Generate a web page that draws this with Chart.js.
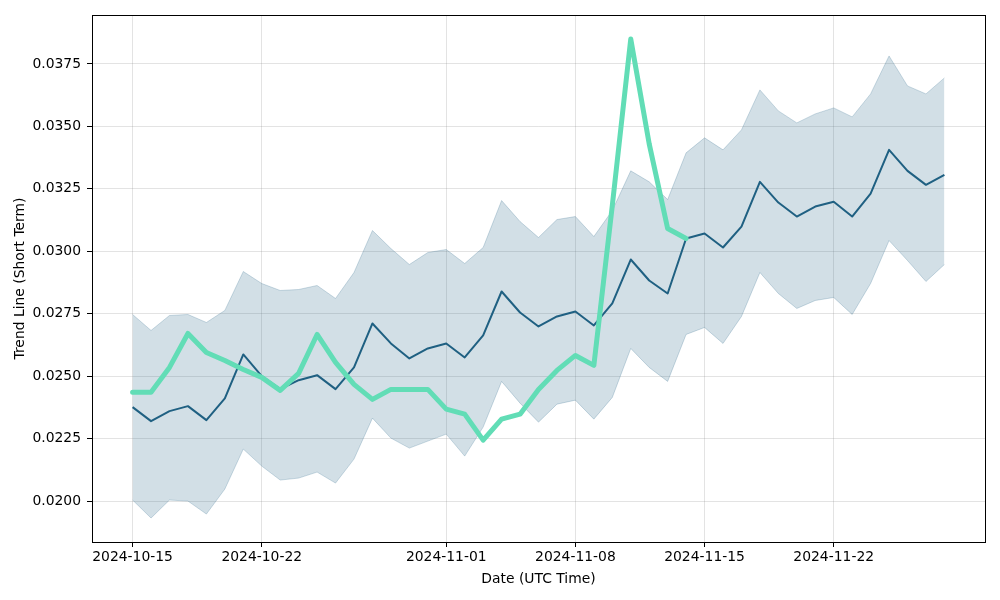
<!DOCTYPE html>
<html>
<head>
<meta charset="utf-8">
<script src="https://cdn.jsdelivr.net/npm/chart.js@4/dist/chart.umd.min.js"></script>
<style>
html,body{margin:0;padding:0;background:#fff;}
#wrap{width:1000px;height:600px;position:relative;}
</style>
</head>
<body>
<div id="wrap"><canvas id="c" width="1000" height="600"></canvas></div>
<script>
const dates = [
"2024-10-15","2024-10-16","2024-10-17","2024-10-18","2024-10-19","2024-10-20","2024-10-21","2024-10-22","2024-10-23","2024-10-24",
"2024-10-25","2024-10-26","2024-10-27","2024-10-28","2024-10-29","2024-10-30","2024-10-31","2024-11-01","2024-11-02","2024-11-03",
"2024-11-04","2024-11-05","2024-11-06","2024-11-07","2024-11-08","2024-11-09","2024-11-10","2024-11-11","2024-11-12","2024-11-13",
"2024-11-14","2024-11-15","2024-11-16","2024-11-17","2024-11-18","2024-11-19","2024-11-20","2024-11-21","2024-11-22","2024-11-23",
"2024-11-24","2024-11-25","2024-11-26","2024-11-27","2024-11-28"];
const meanLine = [
0.02376,0.02320,0.02360,0.02380,0.02324,0.02411,0.02587,0.02500,0.02448,0.02484,
0.02504,0.02448,0.02535,0.02711,0.02631,0.02571,0.02611,0.02631,0.02575,0.02663,
0.02839,0.02755,0.02699,0.02739,0.02759,0.02703,0.02791,0.02967,0.02883,0.02831,
0.03051,0.03071,0.03015,0.03099,0.03278,0.03195,0.03139,0.03179,0.03198,0.03139,
0.03231,0.03406,0.03322,0.03266,0.03306];
const upperBand = [
0.02747,0.02683,0.02743,0.02747,0.02715,0.02763,0.02919,0.02871,0.02843,0.02847,
0.02863,0.02811,0.02915,0.03083,0.03011,0.02947,0.02995,0.03007,0.02951,0.03015,
0.03203,0.03119,0.03055,0.03127,0.03139,0.03059,0.03163,0.03322,0.03278,0.03207,
0.03394,0.03454,0.03406,0.03486,0.03646,0.03562,0.03514,0.03550,0.03574,0.03538,
0.03630,0.03782,0.03662,0.03630,0.03694];
const lowerBand = [
0.02004,0.01932,0.02004,0.02000,0.01948,0.02048,0.02208,0.02140,0.02084,0.02092,
0.02116,0.02072,0.02168,0.02332,0.02252,0.02212,0.02240,0.02268,0.02180,0.02296,
0.02479,0.02392,0.02316,0.02388,0.02404,0.02328,0.02415,0.02611,0.02535,0.02479,
0.02667,0.02695,0.02631,0.02739,0.02915,0.02831,0.02771,0.02803,0.02815,0.02747,
0.02871,0.03043,0.02963,0.02879,0.02947];
const trendShort = [
0.02436,0.02436,0.02535,0.02671,0.02595,0.02563,0.02527,0.02495,0.02443,0.02511,
0.02667,0.02555,0.02467,0.02407,0.02447,0.02447,0.02447,0.02368,0.02348,0.02244,
0.02328,0.02348,0.02447,0.02523,0.02583,0.02543,0.03183,0.03850,0.03430,0.03091,
0.03051];
const xTickLabels = ["2024-10-15","2024-10-22","2024-11-01","2024-11-08","2024-11-15","2024-11-22"];
const yTickLabels = ["0.0200","0.0225","0.0250","0.0275","0.0300","0.0325","0.0350","0.0375"];

const DAY = 86400000;
function dayNum(s){ const p=s.split('-').map(Number); return Date.UTC(p[0],p[1]-1,p[2]); }
const t0 = dayNum(dates[0]);
const toX = s => (dayNum(s)-t0)/DAY;
function pts(arr){ return arr.map((v,i)=>({x:toX(dates[i]), y:v})); }
function fmt(d){ const dt=new Date(t0+d*DAY); return dt.toISOString().slice(0,10); }

const xs = dates.map(toX);
const xSpan = xs[xs.length-1]-xs[0];
const xMin = xs[0]-0.05*xSpan, xMax = xs[xs.length-1]+0.05*xSpan;
const allY = upperBand.concat(lowerBand, meanLine, trendShort);
const yLo = Math.min(...allY), yHi = Math.max(...allY);
const ySpan = yHi-yLo;
const yMin = yLo-0.05*ySpan, yMax = yHi+0.05*ySpan;

const FONT = {family:"'DejaVu Sans'", size:13.9};
const frame = {
  id:'frame',
  afterDraw(chart){
    const a=chart.chartArea, ctx=chart.ctx;
    ctx.save(); ctx.strokeStyle='#000'; ctx.lineWidth=1;
    ctx.strokeRect(Math.round(a.left)+0.5, Math.round(a.top)+0.5, Math.round(a.right-a.left), Math.round(a.bottom-a.top));
    ctx.restore();
  }
};

new Chart(document.getElementById('c'), {
  type:'line',
  data:{datasets:[
    {label:'Short term', data:pts(trendShort), borderColor:'#62ddb6', borderWidth:5, pointRadius:0, fill:false, tension:0, borderJoinStyle:'round', borderCapStyle:'round'},
    {label:'Mean', data:pts(meanLine), borderColor:'#1f6082', borderWidth:2, pointRadius:0, fill:false, tension:0, borderJoinStyle:'round'},
    {label:'Upper', data:pts(upperBand), borderColor:'rgba(31,96,130,0.22)', borderWidth:1, pointRadius:0, fill:'+1', backgroundColor:'rgba(31,96,130,0.2)', tension:0},
    {label:'Lower', data:pts(lowerBand), borderColor:'rgba(31,96,130,0.22)', borderWidth:1, pointRadius:0, fill:false, tension:0}
  ]},
  options:{
    responsive:false, animation:false, devicePixelRatio:1,
    layout:{padding:{top:15,right:15,left:0,bottom:0}},
    plugins:{legend:{display:false}, tooltip:{enabled:false}},
    scales:{
      x:{type:'linear', min:xMin, max:xMax,
        afterBuildTicks(s){ s.ticks = xTickLabels.map(l=>({value:toX(l)})); },
        afterFit(s){ s.height = 58; },
        ticks:{callback:v=>fmt(v), color:'#000', font:FONT, padding:2, maxRotation:0, autoSkip:false},
        grid:{color:'rgba(128,128,128,0.22)', tickColor:'#000', tickLength:5, lineWidth:1},
        border:{display:false},
        title:{display:true, text:'Date (UTC Time)', color:'#000', font:FONT, padding:{top:4,bottom:12}}
      },
      y:{type:'linear', min:yMin, max:yMax,
        afterBuildTicks(s){ s.ticks = yTickLabels.map(l=>({value:parseFloat(l)})); },
        afterFit(s){ s.width = 92; },
        ticks:{callback:v=>v.toFixed(4), color:'#000', font:FONT, padding:6},
        grid:{color:'rgba(128,128,128,0.22)', tickColor:'#000', tickLength:5, lineWidth:1},
        border:{display:false},
        title:{display:true, text:'Trend Line (Short Term)', color:'#000', font:FONT, padding:{top:12,bottom:4}}
      }
    }
  },
  plugins:[frame]
});
</script>
</body>
</html>
